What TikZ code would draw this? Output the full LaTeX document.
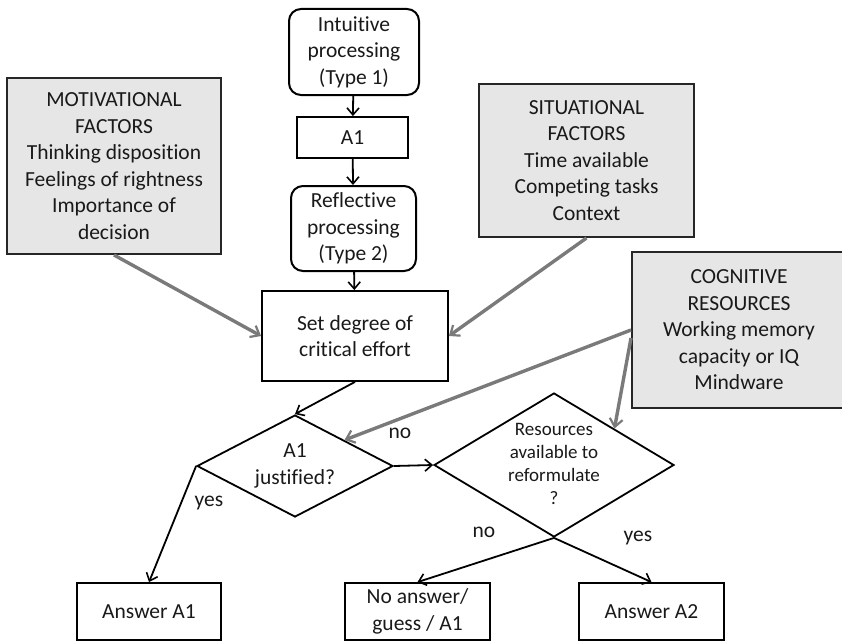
\documentclass[tikz,border=0pt]{standalone}
\usepackage{fontspec}
\setmainfont{Carlito}[Ligatures={NoCommon}]
\usetikzlibrary{shapes.geometric,arrows.meta,calc}
\definecolor{boxgray}{HTML}{E6E6E6}
\definecolor{arrgray}{HTML}{7A7A7A}
\begin{document}
\begin{tikzpicture}[x=1pt,y=-1pt,
  every node/.style={font=\fontsize{21.5}{26.5}\selectfont, align=center, inner sep=0pt, text=black!90},
  rbox/.style={draw, line width=2pt, rounded corners=12pt},
  pbox/.style={draw, line width=1.8pt},
  fbox/.style={draw=black!85, line width=2pt, fill=boxgray},
  dia/.style={draw, diamond, line width=1.8pt, aspect=2},
  blk/.style={line width=1.8pt, -{Straight Barb[length=7pt,width=12pt,line width=1.6pt]}},
  gry/.style={draw=arrgray, line width=3.4pt, -{Straight Barb[length=8pt,width=13pt,line width=2.2pt]}},
  lbl/.style={font=\fontsize{21.5}{26.5}\selectfont}
]
\useasboundingbox (0,0) rectangle (842,642);

\node[rbox, minimum width=130pt, minimum height=86pt] (intu) at (354,52) {Intuitive\\processing\\(Type 1)};
\node[pbox, minimum width=111pt, minimum height=41pt] (a1) at (352.5,137.5) {A1};
\node[rbox, minimum width=125pt, minimum height=85pt] (refl) at (353.5,228.5) {Reflective\\processing\\(Type 2)};
\node[pbox, minimum width=186pt, minimum height=90pt] (set) at (355,336) {Set degree of\\critical effort};

\node[fbox, minimum width=214pt, minimum height=176pt] (mot) at (114,166) {MOTIVATIONAL\\FACTORS\\Thinking disposition\\Feelings of rightness\\Importance of\\decision};
\node[fbox, minimum width=215pt, minimum height=153pt] (sit) at (586.5,160.5) {SITUATIONAL\\FACTORS\\Time available\\Competing tasks\\Context};
\node[fbox, minimum width=214pt, minimum height=156pt] (cog) at (739,330) {COGNITIVE\\RESOURCES\\Working memory\\capacity or IQ\\Mindware};

\node[dia, minimum width=196pt, minimum height=102pt] (d1) at (295,466) {};
\node (d1t) at (d1) {A1\\justified?};
\node[dia, minimum width=240pt, minimum height=144pt] (d2) at (554,465) {};
\node[font=\fontsize{19}{23.3}\selectfont] (d2t) at (554,464) {Resources\\available to\\reformulate\\?};

\node[pbox, minimum width=144pt, minimum height=57pt] (ans1) at (149,611.5) {Answer A1};
\node[pbox, minimum width=145pt, minimum height=57pt] (noans) at (417.5,611.5) {No answer/\\guess / A1};
\node[pbox, minimum width=145pt, minimum height=57pt] (ans2) at (651.5,611.5) {Answer A2};

\draw[blk] (intu) -- (a1);
\draw[blk] (a1) -- (refl);
\draw[blk] (refl) -- (set);
\draw[blk] (set.south) -- (d1.north);
\draw[blk] (d1.west) -- (ans1.north);
\draw[blk] (d1.east) -- (d2.west);
\draw[blk] (d2.south) -- (noans.north);
\draw[blk] (d2.south) -- (ans2.north);

\draw[gry] (mot.south) -- (set.west);
\draw[gry] (sit.south) -- (set.east);
\draw[gry] (cog.west) -- (d1.north east);
\draw[gry] ($(cog.west)+(0,8)$) -- (d2.north east);

\node[lbl] (l1) at (400,433) {no};
\node[lbl] (l2) at (209,503) {yes};
\node[lbl] (l3) at (484,532) {no};
\node[lbl] (l4) at (638,538) {yes};
\end{tikzpicture}
\end{document}
